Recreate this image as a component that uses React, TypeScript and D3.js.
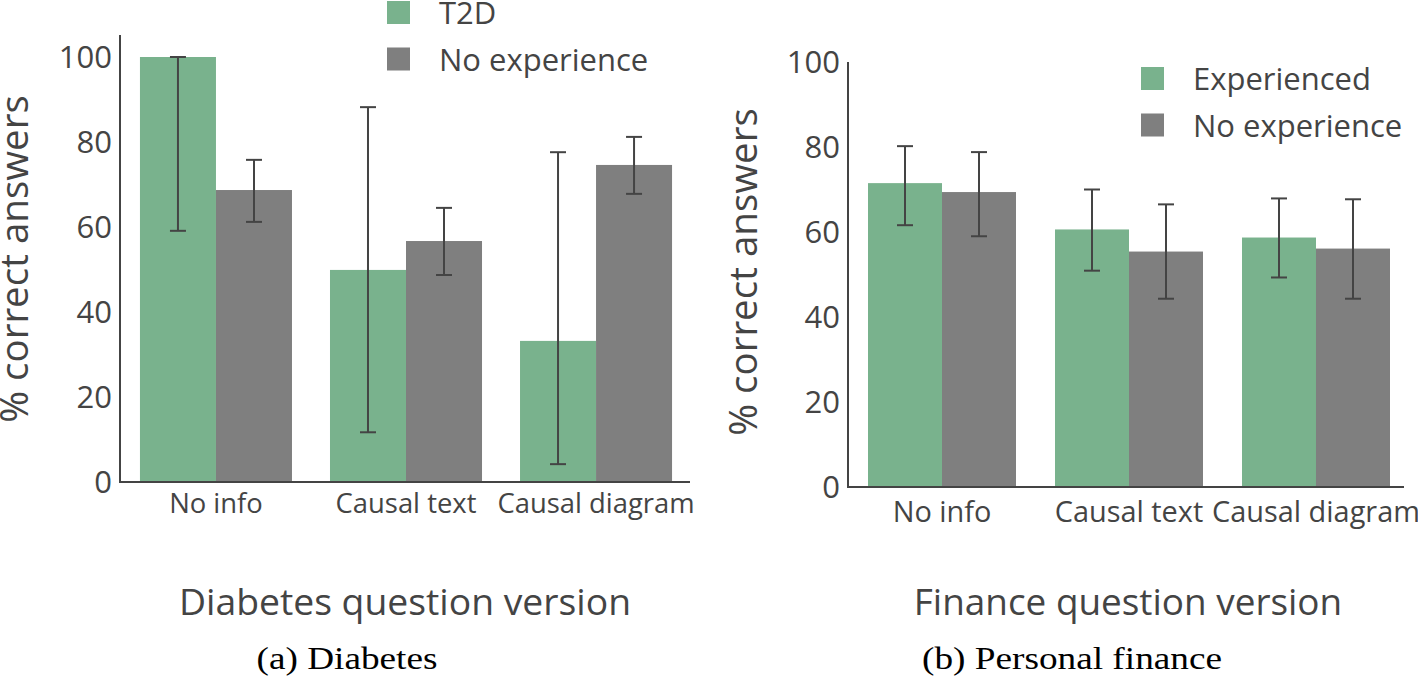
import React from "react";
import * as d3 from "d3";

const categories = ["No info", "Causal text", "Causal diagram"];
const yTicks = [0, 20, 40, 60, 80, 100];

// Diabetes panel
const diabetesSeries = ["T2D", "No experience"];
const diabetesT2D = [100, 49.9, 33.2];
const diabetesT2DLow = [59.1, 11.7, 4.2];
const diabetesT2DHigh = [100, 88.2, 77.6];
const diabetesNoExp = [68.7, 56.7, 74.6];
const diabetesNoExpLow = [61.2, 48.7, 67.8];
const diabetesNoExpHigh = [75.8, 64.5, 81.2];

// Finance panel
const financeSeries = ["Experienced", "No experience"];
const financeExp = [71.5, 60.6, 58.7];
const financeExpLow = [61.6, 50.9, 49.3];
const financeExpHigh = [80.2, 70.0, 67.9];
const financeNoExp = [69.4, 55.4, 56.1];
const financeNoExpLow = [59.0, 44.3, 44.3];
const financeNoExpHigh = [78.8, 66.5, 67.7];

const GREEN = "#79b28d";
const GRAY = "#7f7f7f";
const TEXT = "#444";
const FONT = "'Open Sans', sans-serif";

type Panel = {
  x0: number; x1: number; axisEnd: number;
  y0: number; yTop: number; yMax: number;
  pInner: number; pOuter: number;
  series: string[];
  values: number[][]; lows: number[][]; highs: number[][];
  legendX: number; legendY: number;
  catBaseline: number; catSize: number;
  yTitleX: number; yTitleY: number;
  xTitle: string; xTitleX: number; xTitleSize: number;
  caption: string; captionX: number; captionLen: number;
};

function ChartPanel({ p }: { p: Panel }) {
  const x = d3.scaleBand<string>().domain(categories).range([p.x0, p.x1])
    .paddingInner(p.pInner).paddingOuter(p.pOuter);
  const xs = d3.scaleBand<number>().domain([0, 1]).range([0, x.bandwidth()]);
  const y = d3.scaleLinear().domain([0, p.yMax]).range([p.y0, p.yTop]);
  const colors = [GREEN, GRAY];
  const cap = 8;
  return (
    <g>
      {p.values.map((vals, si) =>
        vals.map((v, ci) => {
          const bx = (x(categories[ci]) as number) + (xs(si) as number);
          return (
            <rect key={`b${si}-${ci}`} x={bx} y={y(v)} width={xs.bandwidth()}
              height={y(0) - y(v)} fill={colors[si]} />
          );
        })
      )}
      {p.values.map((vals, si) =>
        vals.map((_, ci) => {
          const cx = (x(categories[ci]) as number) + (xs(si) as number) + xs.bandwidth() / 2;
          const lo = y(p.lows[si][ci]);
          const hi = y(p.highs[si][ci]);
          return (
            <g key={`e${si}-${ci}`} stroke="#444" strokeWidth={2}>
              <line x1={cx} x2={cx} y1={hi} y2={lo} />
              <line x1={cx - cap} x2={cx + cap} y1={hi} y2={hi} />
              <line x1={cx - cap} x2={cx + cap} y1={lo} y2={lo} />
            </g>
          );
        })
      )}
      {/* axes */}
      <line x1={p.x0} x2={p.x0} y1={p.yTop} y2={p.y0 + 1} stroke="#444" strokeWidth={2} />
      <line x1={p.x0} x2={p.axisEnd} y1={p.y0} y2={p.y0} stroke="#444" strokeWidth={2} />
      {yTicks.map((t) => (
        <text key={`t${t}`} x={p.x0 - 8} y={y(t)} dy="0.35em" textAnchor="end"
          fontFamily={FONT} fontSize={31} fill={TEXT}>{t}</text>
      ))}
      {categories.map((c) => (
        <text key={`c${c}`} x={(x(c) as number) + x.bandwidth() / 2} y={p.catBaseline}
          textAnchor="middle" fontFamily={FONT} fontSize={p.catSize} fill={TEXT}>{c}</text>
      ))}
      {/* legend */}
      {p.series.map((s, si) => (
        <g key={`l${s}`}>
          <rect x={p.legendX} y={p.legendY + si * 46.5} width={23} height={23} fill={colors[si]} />
          <text x={p.legendX + 52} y={p.legendY + si * 46.5 + 23} fontFamily={FONT}
            fontSize={31} fill={TEXT}>{s}</text>
        </g>
      ))}
      <text transform={`translate(${p.yTitleX},${p.yTitleY}) rotate(-90)`} textAnchor="middle"
        fontFamily={FONT} fontSize={38.5} fill={TEXT}>% correct answers</text>
      <text x={p.xTitleX} y={615} textAnchor="middle" fontFamily={FONT} fontSize={p.xTitleSize}
        fill={TEXT}>{p.xTitle}</text>
      <text x={p.captionX} y={669} textAnchor="middle" fontFamily="'Liberation Serif', serif"
        fontSize={31} fill="#000" textLength={p.captionLen} lengthAdjust="spacingAndGlyphs">{p.caption}</text>
    </g>
  );
}

export default function App() {
  const left: Panel = {
    x0: 120, x1: 692, axisEnd: 690, y0: 482, yTop: 35, yMax: (482 - 35) / 4.25,
    pInner: 0.2, pOuter: 0.105,
    series: diabetesSeries,
    values: [diabetesT2D, diabetesNoExp],
    lows: [diabetesT2DLow, diabetesNoExpLow],
    highs: [diabetesT2DHigh, diabetesNoExpHigh],
    legendX: 387, legendY: 1,
    catBaseline: 513, catSize: 27.4,
    yTitleX: 28, yTitleY: 259,
    xTitle: "Diabetes question version", xTitleX: 405, xTitleSize: 37.3,
    caption: "(a) Diabetes", captionX: 347, captionLen: 181,
  };
  const right: Panel = {
    x0: 848, x1: 1410, axisEnd: 1404, y0: 487, yTop: 62, yMax: 100,
    pInner: 0.2086, pOuter: 0.107,
    series: financeSeries,
    values: [financeExp, financeNoExp],
    lows: [financeExpLow, financeNoExpLow],
    highs: [financeExpHigh, financeNoExpHigh],
    legendX: 1141, legendY: 67,
    catBaseline: 522, catSize: 28.9,
    yTitleX: 757, yTitleY: 272,
    xTitle: "Finance question version", xTitleX: 1128, xTitleSize: 36.9,
    caption: "(b) Personal finance", captionX: 1072, captionLen: 300,
  };
  return (
    <svg width={1418} height={678} style={{ position: "absolute", left: 0, top: 0, background: "#fff" }}>
      <rect width={1418} height={678} fill="#fff" />
      <ChartPanel p={left} />
      <ChartPanel p={right} />
    </svg>
  );
}
